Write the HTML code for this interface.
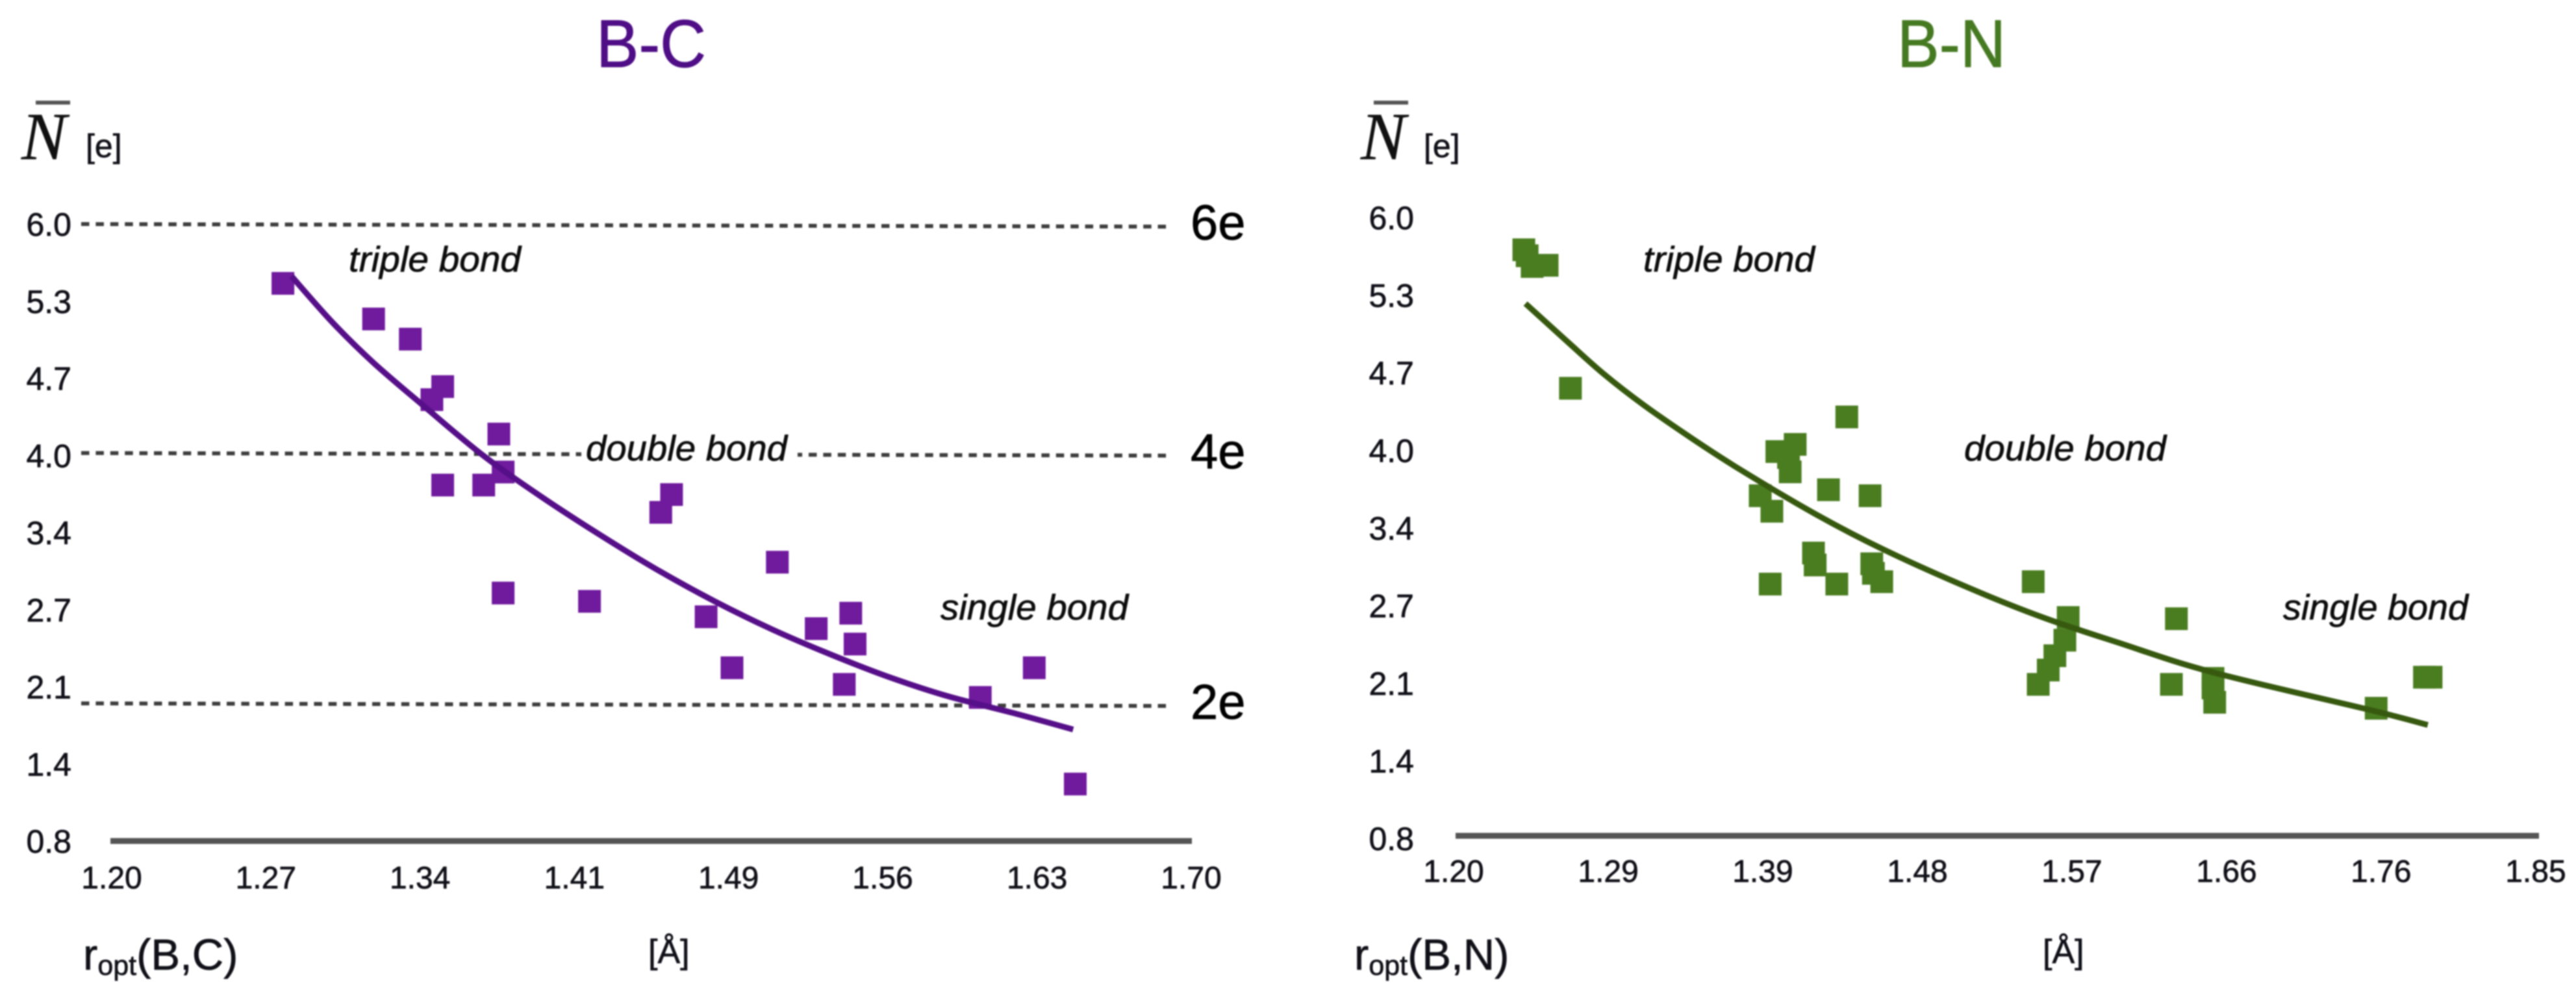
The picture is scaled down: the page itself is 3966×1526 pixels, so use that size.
<!DOCTYPE html>
<html lang="en">
<head>
<meta charset="utf-8">
<title>B-C and B-N bond electron population charts</title>
<style>
  html, body { margin: 0; padding: 0; background: #fff; }
  body { width: 3966px; height: 1526px; overflow: hidden; }
  svg { display: block; filter: blur(1px); font-family: "Liberation Sans", sans-serif; }
  text { stroke-linejoin: round; }
  .tick { fill: #101018; stroke: #101018; stroke-width: 0.7px; }
  .bond { fill: #0c0c0c; stroke: #0c0c0c; stroke-width: 0.7px; font-style: italic; font-size: 55px; }
  .nbar { font-family: "Liberation Serif", serif; font-style: italic; font-size: 104px; fill: #111; stroke: #111; stroke-width: 0.5px; }
  .unit { font-size: 50px; fill: #101018; stroke: #101018; stroke-width: 0.7px; }
  .rlabel { font-size: 67px; fill: #101018; stroke: #101018; stroke-width: 0.7px; }
  .ang { font-size: 52px; fill: #101018; stroke: #101018; stroke-width: 0.7px; }
  .etag { font-size: 76px; fill: #000; stroke: #000; stroke-width: 0.8px; }
  .title-bc { fill: #4f0d86; stroke: #4f0d86; stroke-width: 1px; }
  .title-bn { fill: #467a22; stroke: #467a22; stroke-width: 1px; }
</style>
</head>
<body>
<svg id="fig" xmlns="http://www.w3.org/2000/svg" width="3966" height="1526" viewBox="0 0 3966 1526">
  <rect x="0" y="0" width="3966" height="1526" fill="#ffffff"/>

  <g id="chart-bc">
    <text class="title-bc" x="918" y="103" font-size="104" textLength="169" lengthAdjust="spacingAndGlyphs">B-C</text>
    <rect x="55" y="155" width="53" height="6" fill="#555"/>
    <text class="nbar" x="33" y="245">N</text>
    <text class="unit" x="132" y="242">[e]</text>
    <text class="rlabel" x="128" y="1493">r<tspan font-size="43" dy="8">opt</tspan><tspan dy="-8">(B,C)</tspan></text>
    <text class="ang" x="998" y="1483">[Å]</text>
  </g>

  <g id="chart-bn">
    <text class="title-bn" x="2921" y="103" font-size="104" textLength="167" lengthAdjust="spacingAndGlyphs">B-N</text>
    <rect x="2115" y="155" width="53" height="6" fill="#555"/>
    <text class="nbar" x="2095" y="245">N</text>
    <text class="unit" x="2192" y="242">[e]</text>
    <text class="rlabel" x="2085" y="1493">r<tspan font-size="43" dy="8">opt</tspan><tspan dy="-8">(B,N)</tspan></text>
    <text class="ang" x="3145" y="1483">[Å]</text>
  </g>
</svg>

<script>
// Shared y axis
const yTickValues = [6, 5.35, 4.7, 4.05, 3.4, 2.75, 2.1, 1.45, 0.8];
const yTickLabels = ['6.0', '5.3', '4.7', '4.0', '3.4', '2.7', '2.1', '1.4', '0.8'];

// B-C chart
const bcXTickValues = [1.2, 1.2714, 1.3428, 1.4143, 1.4857, 1.5571, 1.6286, 1.7];
const bcXTickLabels = ['1.20', '1.27', '1.34', '1.41', '1.49', '1.56', '1.63', '1.70'];
const bcPointR = [1.279, 1.321, 1.338, 1.353, 1.348, 1.353, 1.372, 1.379, 1.381, 1.381, 1.421, 1.454, 1.459, 1.475, 1.487, 1.508, 1.526, 1.542, 1.544, 1.539, 1.602, 1.627, 1.646];
const bcPointN = [5.50, 5.20, 5.03, 4.63, 4.52, 3.80, 3.80, 4.23, 3.91, 2.89, 2.82, 3.57, 3.72, 2.69, 2.26, 3.15, 2.59, 2.72, 2.46, 2.12, 2.01, 2.26, 1.28];
const bcCurveR = [1.283, 1.302, 1.321, 1.344, 1.371, 1.398, 1.425, 1.452, 1.479, 1.506, 1.533, 1.560, 1.587, 1.617, 1.645];
const bcCurveN = [5.56, 5.17, 4.83, 4.47, 4.06, 3.71, 3.39, 3.09, 2.82, 2.58, 2.37, 2.18, 2.02, 1.88, 1.74];
const bcGuideValues = [6, 4.07, 1.96];
const bcGuideLabels = ['6e', '4e', '2e'];

// B-N chart
const bnXTickValues = [1.2, 1.2929, 1.3857, 1.4786, 1.5714, 1.6643, 1.7571, 1.85];
const bnXTickLabels = ['1.20', '1.29', '1.39', '1.48', '1.57', '1.66', '1.76', '1.85'];
const bnPointR = [1.241, 1.243, 1.246, 1.255, 1.269, 1.435, 1.404, 1.393, 1.400, 1.401, 1.383, 1.390, 1.424, 1.449, 1.415, 1.416, 1.389, 1.429, 1.450, 1.451, 1.456, 1.547, 1.568, 1.566, 1.560, 1.556, 1.550, 1.633, 1.630, 1.655, 1.655, 1.656, 1.753, 1.782, 1.786];
const bnPointN = [5.73, 5.68, 5.59, 5.60, 4.57, 4.33, 4.10, 4.04, 3.99, 3.87, 3.67, 3.54, 3.72, 3.67, 3.19, 3.09, 2.93, 2.93, 3.10, 3.02, 2.95, 2.95, 2.65, 2.46, 2.33, 2.21, 2.09, 2.64, 2.09, 2.14, 2.06, 1.94, 1.89, 2.15, 2.15];
const bnCurveR = [1.242, 1.268, 1.289, 1.313, 1.342, 1.372, 1.417, 1.457, 1.508, 1.553, 1.598, 1.655, 1.751, 1.784];
const bnCurveN = [5.28, 4.95, 4.69, 4.43, 4.15, 3.88, 3.51, 3.22, 2.90, 2.65, 2.44, 2.19, 1.87, 1.75];

const NS = 'http://www.w3.org/2000/svg';
const MARKER = 35;

function svgEl(tag, attrs, parent) {
  const el = document.createElementNS(NS, tag);
  for (const k in attrs) el.setAttribute(k, attrs[k]);
  parent.appendChild(el);
  return el;
}

function smoothPath(xs, ys) {
  let d = 'M' + xs[0].toFixed(1) + ' ' + ys[0].toFixed(1);
  for (let i = 0; i < xs.length - 1; i++) {
    const i0 = Math.max(0, i - 1), i3 = Math.min(xs.length - 1, i + 2);
    const c1x = xs[i] + (xs[i + 1] - xs[i0]) / 6, c1y = ys[i] + (ys[i + 1] - ys[i0]) / 6;
    const c2x = xs[i + 1] - (xs[i3] - xs[i]) / 6, c2y = ys[i + 1] - (ys[i3] - ys[i]) / 6;
    d += 'C' + c1x.toFixed(1) + ' ' + c1y.toFixed(1) + ' ' + c2x.toFixed(1) + ' ' + c2y.toFixed(1) + ' ' + xs[i + 1].toFixed(1) + ' ' + ys[i + 1].toFixed(1);
  }
  return d;
}

function drawChart(cfg) {
  const root = document.getElementById(cfg.id);
  const xScale = v => cfg.x0 + (v - cfg.rMin) * cfg.xUnit;
  const yScale = v => cfg.y08 - (v - 0.8) * cfg.yUnit;

  // Guide lines
  cfg.guides.forEach((g, i) => {
    const y = yScale(g);
    const line = svgEl('line', { x1: 125, y1: y, x2: 1805, y2: y + 4, stroke: '#3e3e3e', 'stroke-width': 6, 'stroke-dasharray': '12.5 9.9' }, root);
    
    
    const tag = svgEl('text', { class: 'etag', x: 1833, y: y + 24 }, root);
    tag.textContent = cfg.guideLabels[i];
    
    
  });

  // Axis line
  const axis = svgEl('line', { x1: cfg.axisL, x2: cfg.axisR, y1: yScale(0.8) + cfg.axisDy, y2: yScale(0.8) + cfg.axisDy, stroke: '#555', 'stroke-width': 9 }, root);
  
  

  // Y ticks
  yTickValues.forEach((v, i) => {
    const t = svgEl('text', { class: 'tick', x: cfg.yLabelRight, y: yScale(v) + 18, 'text-anchor': 'end', 'font-size': 50 }, root);
    t.textContent = yTickLabels[i];
    
    
  });

  // X ticks
  cfg.xTicks.forEach((v, i) => {
    const t = svgEl('text', { class: 'tick', x: xScale(v) + cfg.xLabelDx, y: cfg.xLabelBase, 'text-anchor': 'middle', 'font-size': 48 }, root);
    t.textContent = cfg.xLabels[i];
    
    
  });

  // Bond labels
  cfg.bonds.forEach(b => {
    if (b.gap) {
      const bg = svgEl('rect', { x: b.gap[0], y: b.y - 50, width: b.gap[1], height: 66, fill: '#fff' }, root);
      
      
    }
    const t = svgEl('text', { class: 'bond', x: b.x, y: b.y, textLength: b.w, lengthAdjust: 'spacingAndGlyphs' }, root);
    t.textContent = b.text;
    
    
  });

  // Markers
  cfg.pointR.forEach((r, i) => {
    const m = svgEl('rect', { x: xScale(r) - MARKER / 2, y: yScale(cfg.pointN[i]) - MARKER / 2, width: MARKER, height: MARKER, fill: cfg.markerColor }, root);
    
    
  });

  // Fit curve
  const curve = svgEl('path', { d: smoothPath(cfg.curveR.map(xScale), cfg.curveN.map(yScale)), fill: 'none', stroke: cfg.curveColor, 'stroke-width': 9 }, root);
  
  
}

drawChart({
  id: 'chart-bc', rMin: 1.2, x0: 173, xUnit: 3324, y08: 1295, yUnit: 182.69, axisDy: 0,
  axisL: 170, axisR: 1835, yLabelRight: 110, xLabelDx: -1, xLabelBase: 1368,
  xTicks: bcXTickValues, xLabels: bcXTickLabels,
  pointR: bcPointR, pointN: bcPointN, curveR: bcCurveR, curveN: bcCurveN,
  guides: bcGuideValues, guideLabels: bcGuideLabels,
  markerColor: '#701a9e', curveColor: '#560f88',
  bonds: [
    { text: 'triple bond', x: 537, y: 418, w: 265 },
    { text: 'double bond', x: 902, y: 709, w: 310, gap: [895, 333] },
    { text: 'single bond', x: 1448, y: 954, w: 289 }
  ]
});

drawChart({
  id: 'chart-bn', rMin: 1.2, x0: 2241, xUnit: 2563, y08: 1291, yUnit: 183.85, axisDy: -4,
  axisL: 2241, axisR: 3909, yLabelRight: 2177, xLabelDx: -3, xLabelBase: 1358,
  xTicks: bnXTickValues, xLabels: bnXTickLabels,
  pointR: bnPointR, pointN: bnPointN, curveR: bnCurveR, curveN: bnCurveN,
  guides: [], guideLabels: [],
  markerColor: '#4a7d20', curveColor: '#37590f',
  bonds: [
    { text: 'triple bond', x: 2530, y: 418, w: 264 },
    { text: 'double bond', x: 3024, y: 709, w: 311 },
    { text: 'single bond', x: 3515, y: 954, w: 285 }
  ]
});
</script>
</body>
</html>
